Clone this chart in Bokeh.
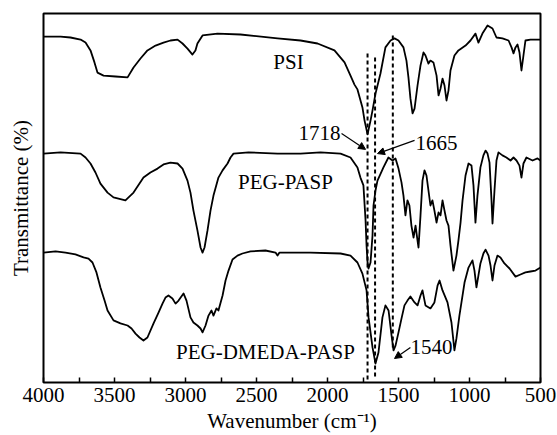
from bokeh.plotting import figure
from bokeh.models import Range1d, FixedTicker, Arrow, NormalHead, Label
from bokeh.embed import file_html
from bokeh.resources import INLINE

# ---- data (wavenumber in cm^-1, transmittance in arbitrary %) ----
psi_wn = [4000, 3880, 3810, 3739, 3704, 3669, 3641, 3620, 3577, 3493, 3408, 3366, 3317, 3268, 3211,
          3155, 3106, 3056, 3021, 2986, 2951, 2930, 2916, 2880, 2775, 2613, 2352, 2190, 2070, 1951,
          1880, 1838, 1810, 1789, 1754, 1739, 1718, 1697, 1683, 1662, 1627, 1592, 1556, 1528, 1500,
          1465, 1444, 1430, 1416, 1401, 1387, 1366, 1345, 1324, 1310, 1289, 1275, 1254, 1232, 1218,
          1204, 1190, 1176, 1162, 1148, 1134, 1106, 1078, 1028, 993, 958, 937, 909, 873, 838,
          810, 768, 725, 704, 690, 676, 662, 648, 634, 620, 606, 571, 500]
psi_t = [115.3, 115.3, 115.0, 114.3, 113.3, 110.7, 106.7, 103.3, 102.3, 102.0, 101.7, 105.0, 108.0, 110.7, 112.3,
         113.3, 114.0, 114.3, 113.0, 111.3, 109.3, 110.7, 113.0, 115.7, 116.3, 116.0, 114.7, 114.0, 113.0, 110.7,
         106.7, 102.3, 99.3, 97.7, 91.7, 87.3, 82.7, 87.3, 90.7, 96.3, 103.0, 111.7, 114.0, 114.7, 114.0,
         111.7, 107.3, 101.7, 94.7, 89.7, 91.3, 99.0, 105.7, 110.0, 109.0, 106.3, 107.3, 106.7, 102.3, 95.7,
         98.0, 101.3, 99.0, 94.0, 97.3, 104.0, 109.0, 110.7, 112.3, 114.0, 116.3, 113.3, 116.3, 119.0, 118.0,
         115.0, 114.7, 114.0, 111.7, 109.7, 111.7, 112.7, 110.0, 104.0, 109.0, 114.0, 114.3, 114.3]

peg_wn = [4000, 3880, 3739, 3704, 3669, 3634, 3599, 3549, 3507, 3423, 3366, 3296, 3247, 3197, 3155,
          3106, 3056, 3021, 2986, 2965, 2944, 2916, 2894, 2880, 2866, 2845, 2824, 2803, 2768, 2739,
          2704, 2683, 2662, 2556, 2352, 2190, 2049, 1908, 1838, 1789, 1768, 1747, 1732, 1725, 1718,
          1711, 1697, 1683, 1676, 1662, 1648, 1606, 1571, 1542, 1521, 1500, 1479, 1465, 1451, 1437,
          1423, 1409, 1394, 1380, 1366, 1359, 1345, 1331, 1317, 1303, 1289, 1275, 1261, 1247, 1232,
          1218, 1204, 1190, 1176, 1162, 1148, 1134, 1113, 1092, 1078, 1063, 1049, 1028, 1007, 986,
          972, 958, 944, 923, 902, 887, 873, 859, 845, 838, 824, 810, 796, 768, 740,
          711, 690, 669, 648, 634, 620, 599, 556, 521, 500]
peg_t = [76.3, 76.7, 76.3, 75.0, 73.0, 70.0, 66.3, 63.3, 61.7, 60.7, 63.3, 68.3, 70.0, 71.3, 72.7,
         73.3, 73.0, 71.3, 67.3, 63.3, 57.3, 50.7, 45.0, 43.3, 45.0, 50.7, 57.3, 62.3, 68.3, 70.7,
         73.0, 75.0, 76.3, 76.7, 76.3, 76.3, 76.7, 76.3, 75.0, 71.7, 68.3, 65.7, 54.0, 45.7, 40.0,
         38.0, 40.0, 49.0, 59.0, 64.0, 67.3, 71.7, 75.0, 74.0, 74.7, 71.3, 66.7, 62.3, 55.7, 60.7,
         59.0, 52.3, 48.3, 52.3, 47.3, 45.0, 55.7, 67.3, 70.7, 69.0, 64.0, 59.0, 60.7, 57.3, 53.3,
         56.7, 55.7, 60.7, 57.3, 54.0, 52.3, 45.7, 37.3, 42.3, 47.3, 53.3, 60.7, 69.0, 73.0, 72.3,
         65.7, 53.3, 62.3, 71.7, 75.7, 77.3, 76.3, 73.3, 60.7, 53.0, 64.0, 74.0, 76.7, 75.7, 75.0,
         74.0, 75.0, 74.0, 72.3, 68.3, 73.0, 75.0, 74.0, 74.7, 74.0]

dmeda_wn = [4000, 3915, 3845, 3775, 3718, 3683, 3655, 3627, 3599, 3570, 3549, 3507, 3458, 3408, 3380,
            3352, 3324, 3296, 3268, 3225, 3190, 3162, 3141, 3120, 3092, 3070, 3049, 3014, 2993, 2965,
            2944, 2916, 2894, 2880, 2859, 2838, 2817, 2803, 2782, 2768, 2739, 2718, 2697, 2669, 2634,
            2599, 2542, 2437, 2366, 2352, 2338, 2261, 2120, 1908, 1838, 1789, 1754, 1725, 1711, 1683,
            1662, 1641, 1613, 1592, 1570, 1549, 1535, 1521, 1500, 1479, 1458, 1437, 1416, 1387, 1366,
            1345, 1331, 1310, 1275, 1247, 1225, 1211, 1190, 1155, 1127, 1106, 1092, 1071, 1035, 1007,
            979, 965, 951, 937, 923, 902, 887, 866, 852, 838, 824, 803, 782, 754, 718,
            676, 641, 606, 571, 535, 500]
dmeda_t = [43.3, 43.7, 43.3, 42.7, 41.7, 41.3, 40.0, 36.7, 31.7, 27.3, 24.0, 20.7, 19.7, 19.0, 18.0,
           16.3, 15.0, 14.0, 15.0, 19.7, 23.3, 26.3, 28.3, 29.0, 28.0, 26.3, 27.3, 29.7, 27.3, 21.7,
           20.0, 19.0, 18.0, 16.7, 19.0, 22.3, 24.0, 22.3, 24.7, 24.0, 29.0, 34.0, 37.3, 41.0, 42.3,
           43.0, 43.7, 44.0, 43.3, 42.3, 43.3, 43.3, 43.3, 43.0, 42.3, 40.0, 36.3, 30.7, 21.7, 11.7,
           6.3, 10.0, 21.7, 25.7, 24.0, 15.7, 10.7, 12.3, 16.7, 21.3, 25.7, 27.3, 28.7, 26.7, 25.7,
           29.0, 30.7, 25.7, 24.7, 26.7, 32.3, 34.0, 30.7, 26.7, 20.0, 10.7, 14.7, 22.3, 33.3, 38.3,
           40.7, 37.3, 31.7, 35.7, 39.7, 43.0, 44.3, 42.3, 39.0, 34.0, 39.0, 42.3, 41.7, 39.7, 38.0,
           35.3, 36.0, 36.7, 37.0, 37.3, 38.3]

marked_wn = [1718, 1665, 1540]
marked_labels = ["1718", "1665", "1540"]
series_names = ["PSI", "PEG-PASP", "PEG-DMEDA-PASP"]
major_ticks = [4000, 3500, 3000, 2500, 2000, 1500, 1000, 500]
minor_ticks = [3750, 3250, 2750, 2250, 1750, 1250, 750]

FONT = "Liberation Serif"
FS = "21px"

p = figure(width=557, height=435, output_backend="svg", toolbar_location=None,
           x_range=Range1d(4000, 500), y_range=Range1d(0, 123),
           min_border_left=43, min_border_right=17, min_border_top=13, min_border_bottom=53,
           background_fill_color="white", border_fill_color="white")
p.grid.visible = False
p.outline_line_color = "black"
p.outline_line_width = 2

# x axis
xa = p.xaxis[0]
xa.ticker = FixedTicker(ticks=major_ticks, minor_ticks=minor_ticks)
xa.major_tick_in = 5
xa.major_tick_out = 0
xa.minor_tick_in = 5
xa.minor_tick_out = 0
xa.major_tick_line_width = 1.5
xa.minor_tick_line_width = 1.5
xa.major_tick_line_color = "black"
xa.minor_tick_line_color = "black"
xa.axis_line_color = None
xa.major_label_text_font = FONT
xa.major_label_text_font_size = FS
xa.major_label_text_color = "black"
xa.major_label_standoff = 5
xa.axis_label = "Wavenumber (cm\u207b\u00b9)"
xa.axis_label_text_font = FONT
xa.axis_label_text_font_size = FS
xa.axis_label_text_font_style = "normal"
xa.axis_label_text_color = "black"
xa.axis_label_standoff = 4

# y axis (label only)
ya = p.yaxis[0]
ya.ticker = FixedTicker(ticks=[])
ya.major_tick_in = 0
ya.major_tick_out = 0
ya.minor_tick_in = 0
ya.minor_tick_out = 0
ya.major_label_standoff = 0
ya.axis_line_color = None
ya.axis_label = "Transmittance (%)"
ya.axis_label_text_font = FONT
ya.axis_label_text_font_size = FS
ya.axis_label_text_font_style = "normal"
ya.axis_label_text_color = "black"
ya.axis_label_standoff = 11

# spectra
for wn, t in [(psi_wn, psi_t), (peg_wn, peg_t), (dmeda_wn, dmeda_t)]:
    p.line(wn, t, line_color="black", line_width=1.8, line_join="round")

# dashed marker lines
p.segment(x0=marked_wn, y0=[109.7, 108.3, 115.7], x1=marked_wn, y1=[1.0, 1.0, 10.7],
          line_color="black", line_width=2, line_dash="4 3")

# series names
for name, (x, y) in zip(series_names, [(2275, 107.0), (2296, 66.7), (2437, 10.3)]):
    p.add_layout(Label(x=x, y=y, text=name, text_font=FONT, text_font_size=FS,
                       text_color="black", text_align="center", text_baseline="middle"))

# peak labels with arrows
label_pos = [(1908, 83.3, "right"), (1380, 80.0, "left"), (1416, 11.7, "left")]
arrows = [((1901, 83.0), (1732, 77.7)), ((1387, 80.7), (1648, 76.3)), ((1416, 11.7), (1528, 8.0))]
for txt, (x, y, al), ((xs, ys), (xe, ye)) in zip(marked_labels, label_pos, arrows):
    p.add_layout(Label(x=x, y=y, text=txt, text_font=FONT, text_font_size=FS,
                       text_color="black", text_align=al, text_baseline="middle"))
    p.add_layout(Arrow(end=NormalHead(size=7, fill_color="black", line_color="black", line_width=1),
                       x_start=xs, y_start=ys, x_end=xe, y_end=ye,
                       line_color="black", line_width=1.2))

open("out.html", "w").write(file_html(p, INLINE))
